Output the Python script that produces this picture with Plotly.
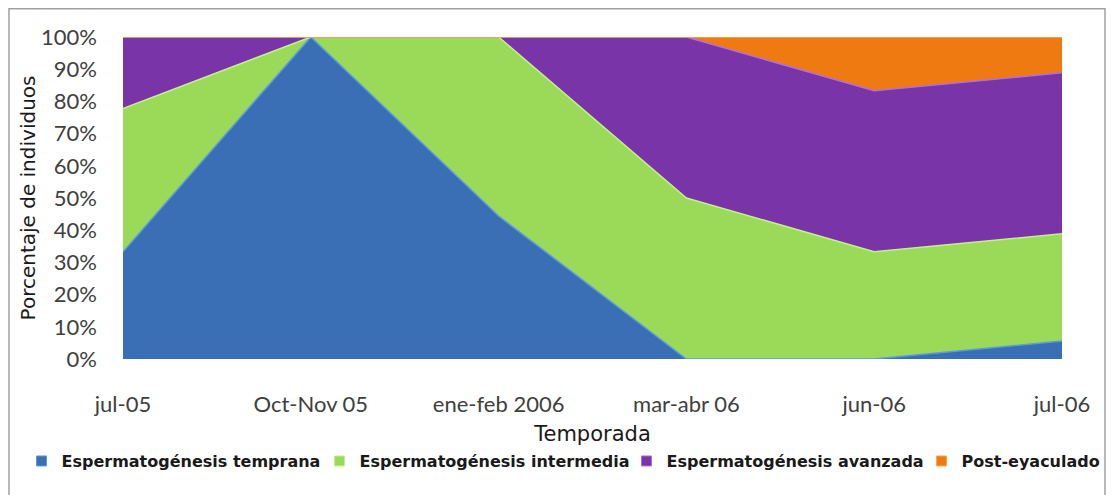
import plotly.graph_objects as go

# seasons on the x axis
temporadas = ["jul-05", "Oct-Nov 05", "ene-feb 2006", "mar-abr 06", "jun-06", "jul-06"]

# percentage of individuals in each stage (stacked to 100%)
temprana = [33.3, 100, 44.4, 0, 0, 5.6]
intermedia = [44.5, 0, 55.6, 50, 33.3, 33.3]
avanzada = [22.2, 0, 0, 50, 50, 50]
post_eyaculado = [0, 0, 0, 0, 16.7, 11.1]

series = [
    ("Espermatogénesis temprana", temprana, "#3a6fb5", "#5b9ae0"),
    ("Espermatogénesis intermedia", intermedia, "#9bd959", "#c4f08a"),
    ("Espermatogénesis avanzada", avanzada, "#7934a8", "#b06ee0"),
    ("Post-eyaculado", post_eyaculado, "#f07a12", "#f9a84a"),
]

fig = go.Figure()
for name, vals, fill, edge in series:
    fig.add_trace(go.Scatter(
        x=temporadas, y=vals,
        name=name,
        mode="lines",
        stackgroup="one",
        fillcolor=fill,
        line=dict(color=edge, width=1.5),
        showlegend=False,
    ))

font = "Lato, 'Open Sans', sans-serif"
title_font = "'DejaVu Sans', sans-serif"

# one small legend per series so the keys sit where the original has them
legend_x = [-0.1081, 0.2093, 0.5362, 0.8504]
legends = {}
for i, (name, vals, fill, edge) in enumerate(series):
    key = "legend" if i == 0 else f"legend{i + 1}"
    fig.add_trace(go.Scatter(
        x=[None], y=[None],
        name=name,
        mode="markers",
        marker=dict(symbol="square", size=10, color=fill, line=dict(color=edge, width=1)),
        legend=key,
    ))
    legends[key] = dict(
        orientation="h",
        x=legend_x[i], xanchor="left",
        y=-0.317, yanchor="middle",
        font=dict(size=16, color="#1a1a1a", family=title_font, weight="bold"),
        itemwidth=30,
        bgcolor="rgba(0,0,0,0)",
    )

fig.update_layout(
    width=1115, height=495,
    autosize=False,
    paper_bgcolor="white",
    plot_bgcolor="white",
    margin=dict(l=115, r=61, t=29, b=144, autoexpand=False),
    font=dict(family=font, color="#404040"),
    showlegend=True,
    shapes=[dict(
        type="rect", xref="paper", yref="paper",
        x0=-0.1214, x1=1.0458, y0=-0.45, y1=1.088,
        line=dict(color="#a0a0a0", width=1.5),
        layer="below",
    )],
    **legends,
)

fig.update_xaxes(
    type="category",
    range=[0, 5],
    showgrid=False,
    zeroline=False,
    showline=False,
    ticks="",
    tickangle=0,
    ticklabelstandoff=30,
    tickfont=dict(size=22, color="#404040"),
    title=dict(text="Temporada", font=dict(size=21, color="#1a1a1a", family=title_font), standoff=10),
)
fig.update_yaxes(
    range=[0, 100],
    dtick=10,
    ticksuffix="%",
    showgrid=False,
    zeroline=False,
    showline=False,
    ticks="",
    ticklabelstandoff=25,
    tickfont=dict(size=22, color="#404040"),
    title=dict(text="Porcentaje de individuos", font=dict(size=20, color="#1a1a1a", family=title_font), standoff=0),
)

fig.write_html("out.html")
